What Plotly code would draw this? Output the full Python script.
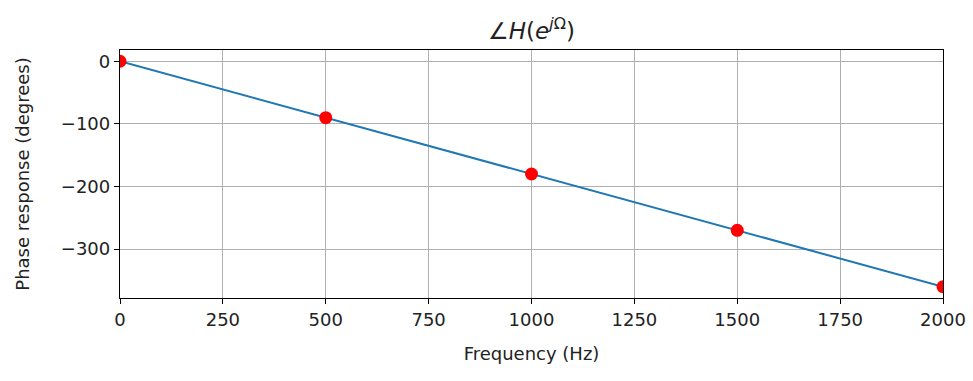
import plotly.graph_objects as go

freq_line = [0, 2000]
phase_line = [0, -360]
freq_pts = [0, 500, 1000, 1500, 2000]
phase_pts = [0, -90, -180, -270, -360]
x_ticks = [0, 250, 500, 750, 1000, 1250, 1500, 1750, 2000]
y_ticks = [0, -100, -200, -300]

fig = go.Figure()
fig.add_trace(go.Scatter(x=freq_line, y=phase_line, mode="lines",
                         line=dict(color="#1f77b4", width=2), showlegend=False))
fig.add_trace(go.Scatter(x=freq_pts, y=phase_pts, mode="markers",
                         marker=dict(color="red", size=13), showlegend=False))

font = "DejaVu Sans"
axis_common = dict(showline=True, linecolor="black", linewidth=1.3, mirror=True,
                   ticks="outside", ticklen=5, tickwidth=1, tickcolor="black",
                   showgrid=True, gridcolor="#b0b0b0", gridwidth=1, zeroline=False,
                   automargin=False,
                   tickfont=dict(family=font, size=18, color="#222"))
fig.update_xaxes(range=[0, 2000], tickvals=x_ticks, ticktext=[str(v) for v in x_ticks],
                 title=dict(text="Frequency (Hz)", font=dict(family=font, size=18, color="#222"), standoff=18),
                 **axis_common)
fig.update_yaxes(range=[-378, 18], tickvals=y_ticks, ticktext=["\u2212" + str(-v) if v else "0" for v in y_ticks],
                 title=dict(text="Phase response (degrees)", font=dict(family=font, size=18, color="#222"), standoff=26),
                 **axis_common)
fig.update_layout(
    width=973, height=381,
    margin=dict(l=120, r=30, t=50, b=83),
    paper_bgcolor="white", plot_bgcolor="white",
    title=dict(text="\u2220<i>H</i>(<i>e</i><sup><i>j</i>\u03a9</sup>)",
               x=(120 + 943) / 2 / 973, xanchor="center", y=0.92, yanchor="middle",
               font=dict(family=font, size=23, color="#222")),
)
fig.write_html("out.html")
